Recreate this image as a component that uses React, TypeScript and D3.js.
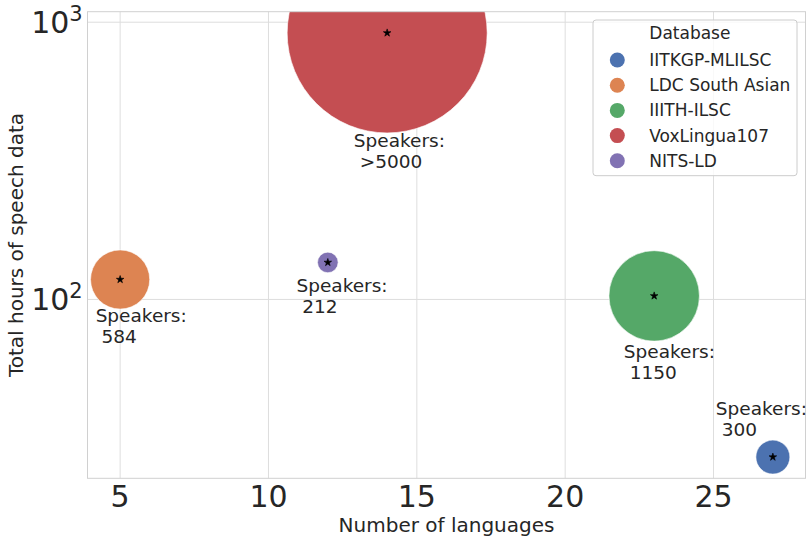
import * as React from "react";
import * as d3 from "d3";

const databases = ["IITKGP-MLILSC", "LDC South Asian", "IIITH-ILSC", "VoxLingua107", "NITS-LD"];
const languages = [27, 5, 23, 14, 12];
const hours = [27, 118, 103, 915, 136];
const speakers = [300, 584, 1150, 5000, 212];
const speakerLabels = ["300", "584", "1150", ">5000", "212"];
const xTicks = [5, 10, 15, 20, 25];
const yTicks = [100, 1000];

const colors = ["#4c72b0", "#dd8452", "#55a868", "#c44e52", "#8172b3"];
// where each "Speakers:" note sits, relative to its bubble (px)
const labelOffsets: [number, number][] = [
  [-57, -41.6],
  [-24.5, 42.7],
  [-30.4, 62.3],
  [-33.3, 114.4],
  [-31.4, 30],
];

const W = 807;
const H = 543;
const left = 87.5;
const right = 805.5;
const top = 11.7;
const bottom = 478.3;
const ink = "#262626";
const font = "DejaVu Sans, sans-serif";

const App: React.FunctionComponent = () => {
  const [x0, x1] = d3.extent(languages) as [number, number];
  const xPad = (x1 - x0) * 0.05;
  const x = d3.scaleLinear().domain([x0 - xPad, x1 + xPad]).range([left, right]);

  const [l0, l1] = d3.extent(hours.map((h) => Math.log10(h))) as [number, number];
  const lPad = (l1 - l0) * 0.05;
  const y = d3
    .scaleLog()
    .domain([Math.pow(10, l0 - lPad), Math.pow(10, l1 + lPad)])
    .range([bottom, top]);

  const area = d3
    .scaleLinear()
    .domain(d3.extent(speakers) as [number, number])
    .range([10.3 * 10.3, 100 * 100]);
  const radius = (s: number) => Math.sqrt(area(s));

  const star = d3.symbol(d3.symbolStar, 18)();

  return (
    <svg width={W} height={H} style={{ position: "absolute", left: 0, top: 0 }} fontFamily={font}>
      <defs>
        <clipPath id="plot">
          <rect x={left} y={top} width={right - left} height={bottom - top} />
        </clipPath>
      </defs>
      <rect x={0} y={0} width={W} height={H} fill="#fff" />

      {/* grid */}
      {xTicks.map((t) => (
        <line key={"gx" + t} x1={x(t)} x2={x(t)} y1={top} y2={bottom} stroke="#dedede" strokeWidth={1} />
      ))}
      {yTicks.map((t) => (
        <line key={"gy" + t} x1={left} x2={right} y1={y(t)} y2={y(t)} stroke="#dedede" strokeWidth={1} />
      ))}

      {/* bubbles */}
      <g clipPath="url(#plot)">
        {databases.map((d, i) => (
          <circle
            key={d}
            cx={x(languages[i])}
            cy={y(hours[i])}
            r={radius(speakers[i])}
            fill={colors[i]}
            stroke="#fff"
            strokeWidth={0.6}
          />
        ))}
        {databases.map((d, i) => (
          <path
            key={"s" + d}
            d={star}
            transform={`translate(${x(languages[i])},${y(hours[i])})`}
            fill="#000"
            stroke="#000"
            strokeWidth={0.6}
          />
        ))}
      </g>

      {/* spines */}
      <rect x={left} y={top} width={right - left} height={bottom - top} fill="none" stroke="#d0d0d0" strokeWidth={1} />

      {/* annotations */}
      {databases.map((d, i) => {
        const lx = x(languages[i]) + labelOffsets[i][0];
        const ly = y(hours[i]) + labelOffsets[i][1];
        return (
          <text key={"a" + d} fontSize={18.5} fill={ink}>
            <tspan x={lx} y={ly}>Speakers:</tspan>
            <tspan x={lx + 5.9} y={ly + 20.5}>{speakerLabels[i]}</tspan>
          </text>
        );
      })}

      {/* x ticks */}
      {xTicks.map((t) => (
        <text key={"xt" + t} x={x(t)} y={507.3} fontSize={30} textAnchor="middle" fill={ink}>
          {t}
        </text>
      ))}
      {/* y ticks */}
      {yTicks.map((t) => (
        <text key={"yt" + t} x={82.7} y={y(t) + 10.7} fontSize={30} textAnchor="end" fill={ink}>
          10
          <tspan fontSize={21} dy={-12}>{Math.round(Math.log10(t))}</tspan>
        </text>
      ))}

      <text x={(left + right) / 2} y={531.7} fontSize={20} textAnchor="middle" fill={ink}>
        Number of languages
      </text>
      <text
        transform={`translate(22.7,${(top + bottom) / 2}) rotate(-90)`}
        fontSize={20}
        textAnchor="middle"
        fill={ink}
      >
        Total hours of speech data
      </text>

      {/* legend */}
      <g>
        <rect x={593} y={20} width={204} height={155.7} rx={3} fill="#fff" fillOpacity={0.8} stroke="#cccccc" />
        <text x={649.3} y={39.3} fontSize={17} fill={ink}>
          Database
        </text>
        {databases.map((d, i) => (
          <g key={"l" + d} transform={`translate(0,${60 + i * 25.2})`}>
            <circle cx={617.3} cy={0} r={7.5} fill={colors[i]} />
            <text x={649.3} y={6} fontSize={17} fill={ink}>
              {d}
            </text>
          </g>
        ))}
      </g>
    </svg>
  );
};

export default App;
